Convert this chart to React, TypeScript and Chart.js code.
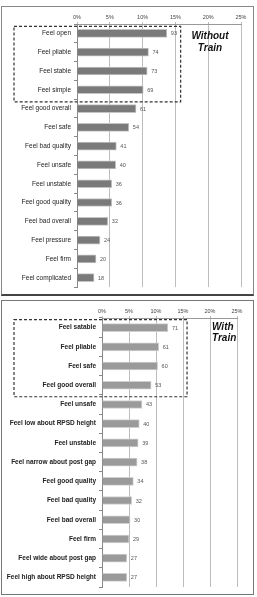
import React, { useEffect, useRef } from "react";
import { Chart, registerables } from "chart.js";

Chart.register(...registerables);

const topCategories = [
  "Feel open",
  "Feel pliable",
  "Feel stable",
  "Feel simple",
  "Feel good overall",
  "Feel safe",
  "Feel bad quality",
  "Feel unsafe",
  "Feel unstable",
  "Feel good quality",
  "Feel bad overall",
  "Feel pressure",
  "Feel firm",
  "Feel complicated",
];
const topPercent = [13.7, 10.9, 10.7, 10.1, 9.0, 7.9, 6.0, 5.9, 5.3, 5.3, 4.7, 3.5, 2.9, 2.6];
const topCounts = [93, 74, 73, 69, 61, 54, 41, 40, 36, 36, 32, 24, 20, 18];

const bottomCategories = [
  "Feel satable",
  "Feel pliable",
  "Feel safe",
  "Feel good overall",
  "Feel unsafe",
  "Feel low about RPSD height",
  "Feel unstable",
  "Feel narrow about post gap",
  "Feel good quality",
  "Feel bad quality",
  "Feel bad overall",
  "Feel firm",
  "Feel wide about post gap",
  "Feel high about RPSD height",
];
const bottomPercent = [12.2, 10.5, 10.3, 9.1, 7.4, 6.9, 6.7, 6.5, 5.8, 5.5, 5.2, 5.0, 4.6, 4.6];
const bottomCounts = [71, 61, 60, 53, 43, 40, 39, 38, 34, 32, 30, 29, 27, 27];

const axisMin = 0;
const axisMax = 25;
const axisStep = 5;

const FONT = "'Liberation Sans', Arial, sans-serif";

type PanelProps = {
  categories: string[];
  values: number[];
  counts: number[];
  title: string[];
  titleAlign: "center" | "left";
  titleX: number;
  titleY: number[];
  labelBold: boolean;
  barColor: string;
  barBorder: string;
  yWidth: number;
  padRight: number;
  padBottom: number;
  boxRight: number;
  boxTopOff: number;
  boxBottomOff: number;
  width: number;
  height: number;
};

function Panel(p: PanelProps) {
  const ref = useRef<HTMLCanvasElement | null>(null);
  useEffect(() => {
    if (!ref.current) return;
    const decor = {
      id: "decor",
      afterDatasetsDraw(chart: any) {
        const ctx = chart.ctx;
        const meta = chart.getDatasetMeta(0);
        ctx.save();
        ctx.fillStyle = "#555";
        ctx.font = `5.5px ${FONT}`;
        ctx.textAlign = "left";
        ctx.textBaseline = "middle";
        meta.data.forEach((bar: any, i: number) => {
          ctx.fillText(String(p.counts[i]), bar.x + 4, bar.y + 0.5);
        });
        // dashed box
        const xs = chart.scales.x;
        const ys = chart.scales.y;
        const left = 12;
        const right = xs.getPixelForValue(p.boxRight);
        const top = ys.getPixelForValue(0) - p.boxTopOff;
        const bottom = ys.getPixelForValue(3) + p.boxBottomOff;
        ctx.strokeStyle = "#333";
        ctx.lineWidth = 1.2;
        ctx.setLineDash([3, 2]);
        ctx.strokeRect(left, top, right - left, bottom - top);
        ctx.setLineDash([]);
        // title
        ctx.fillStyle = "#111";
        ctx.font = `italic bold 10px ${FONT}`;
        ctx.textAlign = p.titleAlign;
        p.title.forEach((t, i) => ctx.fillText(t, p.titleX, p.titleY[i]));
        ctx.restore();
      },
    };
    const chart = new Chart(ref.current, {
      type: "bar",
      data: {
        labels: p.categories,
        datasets: [
          {
            data: p.values,
            backgroundColor: p.barColor,
            borderColor: p.barBorder,
            borderWidth: 1,
            barThickness: 8,
          },
        ],
      },
      options: {
        indexAxis: "y",
        animation: false,
        responsive: false,
        maintainAspectRatio: false,
        layout: { padding: { top: 0, left: 0, right: p.padRight, bottom: p.padBottom } },
        plugins: { legend: { display: false }, tooltip: { enabled: false } },
        scales: {
          x: {
            position: "top",
            min: axisMin,
            max: axisMax,
            ticks: {
              stepSize: axisStep,
              callback: (v: any) => v + "%",
              font: { family: FONT, size: 5.5 },
              color: "#444",
              padding: 1,
              maxRotation: 0,
            },
            grid: { color: "#bdbdbd", lineWidth: 1, tickLength: 2 },
            border: { display: true, color: "#999" },
            afterFit: (s: any) => {
              s.height = 17;
            },
          },
          y: {
            ticks: {
              font: { family: FONT, size: 6.5, weight: p.labelBold ? "bold" : "normal" },
              color: "#222",
              padding: 3,
              autoSkip: false,
            },
            grid: { drawOnChartArea: false, tickLength: 3, color: "#888" },
            border: { display: true, color: "#888" },
            afterFit: (s: any) => {
              s.width = p.yWidth;
            },
          },
        },
      },
      plugins: [decor],
    });
    return () => chart.destroy();
  }, []);
  return <canvas ref={ref} width={p.width} height={p.height} style={{ display: "block" }} />;
}

export default function App() {
  return (
    <div style={{ position: "absolute", left: 0, top: 0, width: 257, height: 597, background: "#fff" }}>
      <div
        style={{
          position: "absolute",
          left: 1,
          top: 6,
          width: 251,
          height: 287,
          border: "1px solid #888",
          borderBottom: "2px solid #444",
          background: "#fff",
        }}
      >
        <Panel
          categories={topCategories}
          values={topPercent}
          counts={topCounts}
          title={["Without", "Train"]}
          titleAlign="center"
          titleX={208}
          titleY={[29, 41]}
          labelBold={false}
          barColor="#7a7a7a"
          barBorder="#c4c4c4"
          yWidth={75}
          padRight={12}
          padBottom={2}
          boxRight={15.8}
          boxTopOff={7}
          boxBottomOff={12}
          width={251}
          height={287}
        />
      </div>
      <div
        style={{
          position: "absolute",
          left: 1,
          top: 300,
          width: 251,
          height: 293,
          border: "1px solid #777",
          background: "#fff",
        }}
      >
        <Panel
          categories={bottomCategories}
          values={bottomPercent}
          counts={bottomCounts}
          title={["With", "Train"]}
          titleAlign="left"
          titleX={210}
          titleY={[26, 37]}
          labelBold={true}
          barColor="#9a9a9a"
          barBorder="#cfcfcf"
          yWidth={100}
          padRight={16}
          padBottom={7}
          boxRight={15.75}
          boxTopOff={8}
          boxBottomOff={11.5}
          width={251}
          height={293}
        />
      </div>
    </div>
  );
}
